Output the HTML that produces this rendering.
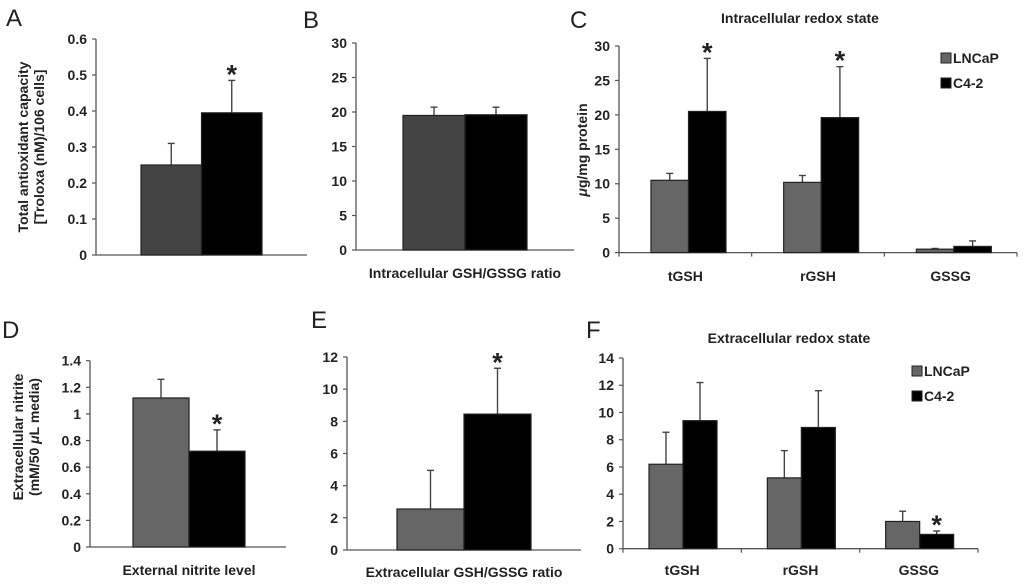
<!DOCTYPE html>
<html><head><meta charset="utf-8">
<style>
html,body{margin:0;padding:0;background:#fff;}
svg{display:block;font-family:"Liberation Sans",Arial,sans-serif;}
</style></head>
<body>
<svg id="fig" width="1024" height="586" viewBox="0 0 1024 586"></svg>
<script>
// ---- data ----
const aVals = [0.25, 0.395];
const aErrs = [0.06, 0.09];
const aTicks = ["0","0.1","0.2","0.3","0.4","0.5","0.6"];
const bVals = [19.5, 19.6];
const bErrs = [1.2, 1.1];
const bTicks = ["0","5","10","15","20","25","30"];
const cCats = ["tGSH","rGSH","GSSG"];
const cLNCaP = [10.5, 10.2, 0.5];
const cLNCaPErr = [1.0, 1.0, 0.1];
const cC42 = [20.5, 19.6, 0.9];
const cC42Err = [7.7, 7.4, 0.8];
const cTicks = ["0","5","10","15","20","25","30"];
const dVals = [1.12, 0.72];
const dErrs = [0.14, 0.16];
const dTicks = ["0","0.2","0.4","0.6","0.8","1","1.2","1.4"];
const eVals = [2.55, 8.45];
const eErrs = [2.4, 2.85];
const eTicks = ["0","2","4","6","8","10","12"];
const fCats = ["tGSH","rGSH","GSSG"];
const fLNCaP = [6.2, 5.2, 2.0];
const fLNCaPErr = [2.35, 2.0, 0.75];
const fC42 = [9.4, 8.9, 1.05];
const fC42Err = [2.8, 2.7, 0.25];
const fTicks = ["0","2","4","6","8","10","12","14"];

const svg = document.getElementById('fig');
const NS = 'http://www.w3.org/2000/svg';
function mk(tag, attrs, parent){
  const e = document.createElementNS(NS, tag);
  for (const k in attrs) e.setAttribute(k, attrs[k]);
  (parent||svg).appendChild(e);
  return e;
}
function txt(s, x, y, size, anchor, weight, parent){
  const t = mk('text', {x:x, y:y, 'font-size':size, 'text-anchor':anchor||'middle', 'font-weight':weight||'bold', fill:'#222'}, parent);
  t.textContent = s;
  return t;
}

function axes(g, x0, xEnd, y0, yTop, ticks, catTicks){
  const n = ticks.length - 1, max = parseFloat(ticks[n]);
  const sy = v => y0 - (v/max)*(y0-yTop);
  const ax = mk('line',{x1:x0,y1:y0,x2:x0,y2:yTop,stroke:'#555','stroke-width':1.3},g);
   
  const bx = mk('line',{x1:x0,y1:y0,x2:xEnd,y2:y0,stroke:'#555','stroke-width':1.3},g);
   
  ticks.forEach(t=>{
    const y = sy(parseFloat(t));
    mk('line',{x1:x0-4,y1:y,x2:x0,y2:y,stroke:'#555','stroke-width':1.2},g);
    const l = txt(t, x0-9, y+5, 14, 'end', 'bold', g);
     
  });
  (catTicks||[]).forEach(x=>mk('line',{x1:x,y1:y0,x2:x,y2:y0+4,stroke:'#555','stroke-width':1.2},g));
  return sy;
}
function bar(g, x, w, v, err, sy, fill, name){
  const y0 = sy(0), y = sy(v);
  const eb = mk('line',{x1:x+w/2,y1:y,x2:x+w/2,y2:sy(v+err),stroke:'#444','stroke-width':1.4},g);
   
  mk('line',{x1:x+w/2-3.5,y1:sy(v+err),x2:x+w/2+3.5,y2:sy(v+err),stroke:'#444','stroke-width':1.4},g);
  const r = mk('rect',{x:x,y:y,width:w,height:y0-y,fill:fill,stroke:'#222','stroke-width':1.2},g);
   
  return r;
}
function star(g, x, y){
  const s = txt('*', x, y, 27, 'middle', 'bold', g);
   
}
function panelLetter(s, x, y){
  const t = txt(s, x, y, 24, 'start', 'normal');
   
}
function legend(g, x, y1, y2, fill){
  const it = [['LNCaP',fill,y1],['C4-2','#000',y2]];
  it.forEach(([n,f,y])=>{
    const r = mk('rect',{x:x,y:y-10,width:10,height:10,fill:f,stroke:'#222','stroke-width':1},g);
     
    const t = txt(n, x+12, y, 14, 'start', 'bold', g);
     
  });
}
function rotLabel(g, lines, cx, cy, size){
  const t = mk('text',{transform:`translate(${cx},${cy}) rotate(-90)`, 'text-anchor':'middle','font-size':size,'font-weight':'bold',fill:'#222'},g);
  lines.forEach((l,i)=>{
    const ts = mk('tspan',{x:0,dy:i===0?0:size+2},t);
    ts.innerHTML = l;
  });
   
}
function twoBar(name, vals, errs, ticks, geo, grayFill, starIdx){
  const g = mk('g',{});  
  const sy = axes(g, geo.x0, geo.xEnd, geo.y0, geo.yTop, ticks);
  const fills = [grayFill,'#000'];
  vals.forEach((v,i)=>{
    const x = geo.bx + i*geo.bw;
    bar(g, x, geo.bw, v, errs[i], sy, fills[i], name+'-bar-'+(i?'c4-2':'lncap'));
    if (i===starIdx) star(g, x+geo.bw/2, sy(v+errs[i])+3);
  });
  return g;
}
function groupBar(name, cats, s1, e1, s2, e2, ticks, geo, stars){
  const g = mk('g',{});  
  const cw = (geo.xEnd-geo.x0)/cats.length;
  const ct = []; for(let i=0;i<=cats.length;i++) ct.push(geo.x0+i*cw);
  const sy = axes(g, geo.x0, geo.xEnd, geo.y0, geo.yTop, ticks, ct);
  cats.forEach((c,i)=>{
    const xs = geo.x0 + i*cw + geo.off;
    bar(g, xs, geo.bw, s1[i], e1[i], sy, '#666', name+'-bar-lncap-'+c.toLowerCase());
    bar(g, xs+geo.bw, geo.bw, s2[i], e2[i], sy, '#000', name+'-bar-c4-2-'+c.toLowerCase());
    if (stars.includes(i)) star(g, xs+geo.bw*1.5, sy(s2[i]+e2[i])+3);
    const l = txt(c, geo.x0+i*cw+cw/2, geo.labelY, 14, 'middle', 'bold', g);
     
  });
  return g;
}

// Panel A
panelLetter('A', 6, 26);
const gA = twoBar('a', aVals, aErrs, aTicks, {x0:96,xEnd:307,y0:255,yTop:39,bx:141,bw:60.5}, '#444', 1);
rotLabel(gA, ['Total antioxidant capacity','[Troloxa (nM)/106 cells]'], 28, 147, 14);

// Panel B
panelLetter('B', 303, 28);
const gB = twoBar('b', bVals, bErrs, bTicks, {x0:356,xEnd:574,y0:250,yTop:43,bx:403,bw:62}, '#444', -1);
const lb = txt('Intracellular  GSH/GSSG ratio', 465, 278, 14, 'middle', 'bold', gB);
 

// Panel C
panelLetter('C', 570, 28);
const gC = groupBar('c', cCats, cLNCaP, cLNCaPErr, cC42, cC42Err, cTicks, {x0:619,xEnd:1017,y0:252.6,yTop:46,off:32,bw:37.5,labelY:281}, [0,1]);
const tc = txt('Intracellular redox state', 800, 23, 14, 'middle', 'bold', gC);
 
rotLabel(gC, ['<tspan font-style="italic">μ</tspan>g/mg protein'], 587, 150, 14);
legend(gC, 941, 63, 88, '#666');

// Panel D
panelLetter('D', 2, 338);
const gD = twoBar('d', dVals, dErrs, dTicks, {x0:90,xEnd:286,y0:547,yTop:360.7,bx:133,bw:56}, '#666', 1);
rotLabel(gD, ['Extracellular nitrite','(mM/50 <tspan font-style="italic">μ</tspan>L media)'], 23, 437, 14);
const ld = txt('External nitrite level', 189, 575, 14, 'middle', 'bold', gD);
 

// Panel E
panelLetter('E', 311, 328);
const gE = twoBar('e', eVals, eErrs, eTicks, {x0:347,xEnd:581,y0:550,yTop:357,bx:397,bw:67}, '#666', 1);
const le = txt('Extracellular GSH/GSSG ratio', 464, 577, 14, 'middle', 'bold', gE);
 

// Panel F
panelLetter('F', 586, 338);
const gF = groupBar('f', fCats, fLNCaP, fLNCaPErr, fC42, fC42Err, fTicks, {x0:623,xEnd:978,y0:548.7,yTop:358,off:26,bw:34,labelY:575}, [2]);
const tf = txt('Extracellular redox state', 789, 343, 14, 'middle', 'bold', gF);
 
legend(gF, 912, 376, 401, '#666');
</script>
</body></html>
